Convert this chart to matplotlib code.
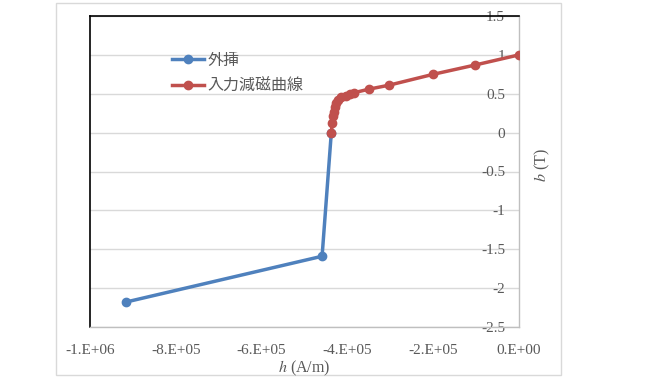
import matplotlib.pyplot as plt
from matplotlib.patches import Rectangle

# extrapolated part (外挿)
h_ext = [-9.17e5, -4.59e5, -4.375e5]
b_ext = [-2.18, -1.59, 0.0]

# input demagnetization curve (入力減磁曲線)
h_in = [-4.375e5, -4.35e5, -4.34e5, -4.31e5, -4.30e5, -4.27e5, -4.22e5, -4.14e5,
        -4.03e5, -3.93e5, -3.84e5, -3.49e5, -3.03e5, -2.00e5, -1.02e5, 0.0]
b_in = [0.0, 0.13, 0.21, 0.27, 0.33, 0.385, 0.42, 0.455,
        0.475, 0.497, 0.514, 0.56, 0.61, 0.75, 0.87, 1.0]

x_ticks = [-1e6, -8e5, -6e5, -4e5, -2e5, 0]
x_labels = ['-1.E+06', '-8.E+05', '-6.E+05', '-4.E+05', '-2.E+05', '0.E+00']
y_ticks = [-2.5, -2, -1.5, -1, -0.5, 0, 0.5, 1, 1.5]
y_labels = ['-2.5', '-2', '-1.5', '-1', '-0.5', '0', '0.5', '1', '1.5']

BLUE = '#4F81BD'
RED = '#C0504D'
GREY_TXT = '#595959'
SERIF = 'Liberation Serif'
JP = ['Noto Sans CJK JP', 'DejaVu Sans']

fig = plt.figure(figsize=(6.5, 3.8), dpi=100)
# outer chart border
fig.patches.append(Rectangle((56 / 650, 5 / 380), 505 / 650, 372 / 380, transform=fig.transFigure,
                             fill=False, edgecolor='#d9d9d9', linewidth=1))
ax = fig.add_axes([90 / 650, 53 / 380, 429 / 650, 311 / 380])

ax.plot(h_ext, b_ext, color=BLUE, lw=2.5, marker='o', ms=6, label='外挿', zorder=3)
ax.plot(h_in, b_in, color=RED, lw=2.5, marker='o', ms=6, label='入力減磁曲線', zorder=4)

ax.set_xlim(-1e6, 0)
ax.set_ylim(-2.5, 1.5)
ax.set_xticks(x_ticks)
ax.set_xticklabels(x_labels, fontfamily=SERIF, fontsize=11, color=GREY_TXT)
ax.set_yticks(y_ticks)
ax.set_yticklabels(y_labels, fontfamily=SERIF, fontsize=11, color=GREY_TXT)
ax.grid(axis='y', color='#d9d9d9', lw=1)
ax.set_axisbelow(True)

ax.tick_params(axis='x', length=0, pad=12)
ax.tick_params(axis='y', length=0, left=False, labelleft=False, labelright=True, pad=-10)
for t in ax.get_yticklabels():
    t.set_horizontalalignment('right')

for s in ['left', 'top']:
    ax.spines[s].set_color('black')
    ax.spines[s].set_linewidth(1.2)
for s in ['right', 'bottom']:
    ax.spines[s].set_color('#bfbfbf')
    ax.spines[s].set_linewidth(1)

fig.text(304 / 650, 1 - 368 / 380, r'$h$ (A/m)', fontfamily=SERIF, fontsize=11.5,
         color=GREY_TXT, ha='center', va='center', math_fontfamily='stix')
fig.text(542 / 650, 1 - 165 / 380, r'$b$ (T)', fontfamily=SERIF, fontsize=11.5,
         color=GREY_TXT, ha='center', va='center', rotation=90, math_fontfamily='stix')

ax.legend(loc='upper left', bbox_to_anchor=(74 / 429, 1 - 28 / 311), frameon=False,
          prop={'family': JP, 'size': 11.5}, labelcolor=GREY_TXT, handlelength=2.0,
          handletextpad=0.2, labelspacing=0.55, borderpad=0)

fig.savefig('out.png', dpi=100)
